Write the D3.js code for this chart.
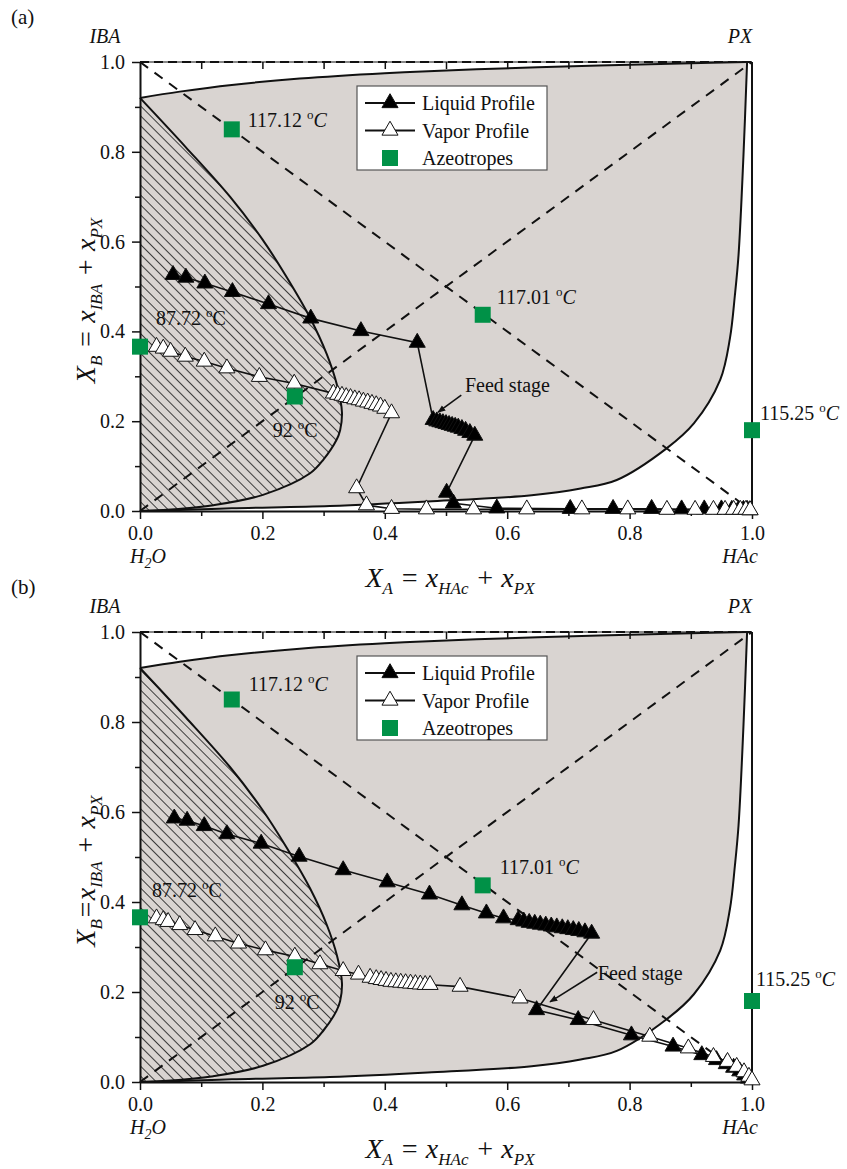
<!DOCTYPE html>
<html>
<head>
<meta charset="utf-8">
<script src="https://cdn.jsdelivr.net/npm/d3@7"></script>
<style>
  body { margin: 0; background: #fff; }
  svg text { font-family: "Liberation Serif", "Times New Roman", serif; fill: #111; }
</style>
</head>
<body>
<svg id="chart" width="847" height="1169"></svg>
<script>
// ---- data ----
const majorTicks = [0, 0.2, 0.4, 0.6, 0.8, 1.0];
const minorTicks = [0.1, 0.3, 0.5, 0.7, 0.9];
const topTicks = [0.1, 0.2, 0.3, 0.4, 0.5, 0.6, 0.7, 0.8, 0.9];

// two-liquid / boundary curves
const boundaryTop = [[0, 0.92], [0.065, 0.934], [0.15, 0.949], [0.261, 0.963], [0.4, 0.975],
  [0.55, 0.984], [0.75, 0.992], [0.9, 0.997], [0.992, 1.0]];
const boundaryRight = [[0, 0], [0.038, 0.001], [0.15, 0.006], [0.31, 0.011], [0.47, 0.021],
  [0.64, 0.035], [0.72, 0.05], [0.779, 0.069], [0.861, 0.14], [0.905, 0.195], [0.948, 0.292],
  [0.964, 0.385], [0.972, 0.48], [0.978, 0.57], [0.986, 0.79], [0.992, 1.0]];
const hatchEdge = [[0, 0.92], [0.075, 0.81], [0.147, 0.70], [0.2, 0.605], [0.24, 0.52],
  [0.278, 0.43], [0.305, 0.35], [0.322, 0.28], [0.33, 0.22], [0.327, 0.18], [0.321, 0.158],
  [0.3, 0.115], [0.278, 0.084], [0.201, 0.036], [0.12, 0.013], [0.038, 0.002], [0, 0]];

// azeotropes
const azeoX = [0.15, 0.56, 0, 0.253, 1.0];
const azeoY = [0.85, 0.437, 0.366, 0.255, 0.18];
const azeoTemp = ["117.12", "117.01", "87.72", "92", "115.25"];
const azeoItalicC = [true, true, false, false, true];

// panel (a) profiles
const liquidA = [[0.054, 0.526], [0.075, 0.520], [0.106, 0.507], [0.151, 0.488], [0.210, 0.461],
  [0.279, 0.429], [0.361, 0.401], [0.453, 0.375],
  [0.479, 0.203], [0.485, 0.200], [0.490, 0.198], [0.495, 0.196], [0.500, 0.194], [0.505, 0.192],
  [0.510, 0.190], [0.515, 0.188], [0.520, 0.186], [0.526, 0.183], [0.532, 0.179], [0.539, 0.174],
  [0.547, 0.168],
  [0.501, 0.041], [0.512, 0.017], [0.583, 0.006], [0.703, 0.005], [0.773, 0.005], [0.836, 0.005],
  [0.885, 0.004], [0.922, 0.004], [0.950, 0.004], [0.967, 0.003], [0.978, 0.003], [0.986, 0.003],
  [0.992, 0.003], [0.996, 0.002]];
const vaporA = [[0.027, 0.366], [0.038, 0.362], [0.050, 0.355], [0.074, 0.344], [0.105, 0.333],
  [0.142, 0.318], [0.195, 0.299], [0.252, 0.284],
  [0.316, 0.262], [0.323, 0.259], [0.330, 0.257], [0.337, 0.254], [0.344, 0.252], [0.351, 0.249],
  [0.358, 0.247], [0.365, 0.244], [0.372, 0.242], [0.379, 0.239], [0.386, 0.236], [0.393, 0.233],
  [0.400, 0.228], [0.411, 0.218],
  [0.354, 0.051], [0.370, 0.013], [0.411, 0.005], [0.468, 0.004], [0.545, 0.004], [0.632, 0.004],
  [0.722, 0.004], [0.797, 0.004], [0.861, 0.003], [0.907, 0.003], [0.937, 0.003], [0.956, 0.003],
  [0.970, 0.003], [0.981, 0.003], [0.990, 0.003], [0.997, 0.002]];

// panel (b) profiles
const liquidB = [[0.056, 0.586], [0.077, 0.581], [0.105, 0.569], [0.142, 0.551], [0.198, 0.530],
  [0.260, 0.501], [0.332, 0.471], [0.404, 0.444], [0.473, 0.417], [0.526, 0.393], [0.566, 0.375],
  [0.594, 0.364], [0.618, 0.360],
  [0.627, 0.357], [0.636, 0.354], [0.645, 0.352], [0.654, 0.350], [0.663, 0.348], [0.672, 0.346],
  [0.681, 0.344], [0.690, 0.342], [0.699, 0.340], [0.708, 0.338], [0.717, 0.336], [0.727, 0.333],
  [0.738, 0.330],
  [0.648, 0.160], [0.716, 0.138], [0.803, 0.104], [0.871, 0.079], [0.918, 0.060], [0.942, 0.049],
  [0.958, 0.040], [0.970, 0.032], [0.980, 0.024], [0.988, 0.015], [0.994, 0.008]];
const vaporB = [[0.027, 0.364], [0.038, 0.360], [0.046, 0.356], [0.065, 0.349], [0.090, 0.338],
  [0.123, 0.324], [0.161, 0.308], [0.205, 0.293], [0.253, 0.279], [0.294, 0.262], [0.332, 0.247],
  [0.357, 0.239], [0.376, 0.232],
  [0.386, 0.229], [0.394, 0.227], [0.402, 0.225], [0.410, 0.223], [0.418, 0.222], [0.426, 0.221],
  [0.434, 0.220], [0.442, 0.219], [0.450, 0.218], [0.458, 0.217], [0.466, 0.216], [0.474, 0.216],
  [0.523, 0.212], [0.621, 0.186], [0.741, 0.138], [0.833, 0.101], [0.896, 0.075], [0.937, 0.056],
  [0.960, 0.045], [0.975, 0.034], [0.987, 0.022], [0.995, 0.012], [1.0, 0.004]];

// feed stage annotation: [label point, arrow start, arrow end]
const feedA = [[0.531, 0.265], [0.525, 0.258], [0.487, 0.220]];
const feedB = [[0.748, 0.227], [0.747, 0.244], [0.670, 0.178]];

// ---- layout ----
const left = 140, right = 752;
const grayFill = "#d9d4d1";
const green = "#009147";

const panels = [
  { tag: "(a)", top: 62, bottom: 511, liquid: liquidA, vapor: vaporA, feed: feedA,
    eq: " = ", labelDx: [16, 14, 16, -22, 8], labelDy: [-2, -11, -22, 40, -10] },
  { tag: "(b)", top: 632, bottom: 1082, liquid: liquidB, vapor: vaporB, feed: feedB,
    eq: "=", labelDx: [17, 17, 12, -20, 4], labelDy: [-9, -11, -20, 42, -15] }
];

const svg = d3.select("#chart");
const defs = svg.append("defs");

defs.append("pattern")
  .attr("id", "hatch")
  .attr("patternUnits", "userSpaceOnUse")
  .attr("width", 7).attr("height", 7)
  .attr("patternTransform", "rotate(-45)")
  .append("line")
  .attr("x1", 3.5).attr("y1", 0).attr("x2", 3.5).attr("y2", 7)
  .attr("stroke", "#333").attr("stroke-width", 0.95);

defs.append("marker")
  .attr("id", "arrow")
  .attr("viewBox", "0 0 10 10")
  .attr("refX", 9).attr("refY", 5)
  .attr("markerWidth", 8).attr("markerHeight", 8)
  .attr("markerUnits", "userSpaceOnUse")
  .attr("orient", "auto")
  .append("path").attr("d", "M0,1 L10,5 L0,9 Z").attr("fill", "#111");

const triangle = d3.symbol(d3.symbolTriangle, 112);
const square = d3.symbol(d3.symbolSquare, 256);

function tempLabel(t, num, italicC) {
  t.append("tspan").text(num + " ");
  t.append("tspan").attr("font-size", 13).attr("dy", -8).text("o");
  t.append("tspan").attr("dy", 8).attr("font-style", italicC ? "italic" : "normal").text("C");
}

// parts: [text, isSub]; subSize: font size for subscripts
function mathText(t, parts, subSize, shift) {
  let down = false;
  parts.forEach(p => {
    const s = t.append("tspan").text(p[0]);
    if (p[1]) {
      s.attr("font-size", subSize);
      if (!down) { s.attr("dy", shift); down = true; }
    } else if (down) { s.attr("dy", -shift); down = false; }
  });
}

function drawPanel(cfg) {
  const x = d3.scaleLinear().domain([0, 1]).range([left, right]);
  const y = d3.scaleLinear().domain([0, 1]).range([cfg.bottom, cfg.top]);
  const g = svg.append("g");

  const curve = d3.line().x(d => x(d[0])).y(d => y(d[1])).curve(d3.curveCatmullRom.alpha(0.5));
  const straight = d3.line().x(d => x(d[0])).y(d => y(d[1]));

  // gray region
  const topPath = curve(boundaryTop);
  const rightRev = curve(boundaryRight.slice().reverse());
  g.append("path")
    .attr("d", "M" + x(0) + "," + y(0) + "L" + topPath.slice(1) + "L" + rightRev.slice(1) + "Z")
    .attr("fill", grayFill);

  // hatched region
  g.append("path").attr("d", curve(hatchEdge) + "Z").attr("fill", "url(#hatch)");

  // boundaries
  [boundaryTop, boundaryRight, hatchEdge].forEach(b => {
    g.append("path").attr("d", curve(b)).attr("fill", "none")
      .attr("stroke", "#111").attr("stroke-width", 2);
  });

  // dashed diagonals and top edge
  [[[0, 0], [1, 1]], [[0, 1], [1, 0]]].forEach(seg => {
    g.append("path").attr("d", straight(seg)).attr("fill", "none")
      .attr("stroke", "#111").attr("stroke-width", 2).attr("stroke-dasharray", "10,8");
  });
  g.append("path").attr("d", straight([[0, 1], [1, 1]])).attr("fill", "none")
    .attr("stroke", "#111").attr("stroke-width", 1);
  g.append("path").attr("d", straight([[0, 1], [1, 1]])).attr("fill", "none")
    .attr("stroke", "#111").attr("stroke-width", 2.2).attr("stroke-dasharray", "9,5");
  g.append("path").attr("d", straight([[1, 0], [1, 1]])).attr("fill", "none")
    .attr("stroke", "#111").attr("stroke-width", 2);

  // axes
  const fmt = d3.format(".1f");
  const xAxis = g.append("g").attr("transform", "translate(0," + cfg.bottom + ")")
    .call(d3.axisBottom(x).tickValues(majorTicks).tickFormat(fmt).tickSize(8).tickSizeOuter(0).tickPadding(7));
  g.append("g").attr("transform", "translate(0," + cfg.bottom + ")")
    .call(d3.axisBottom(x).tickValues(minorTicks).tickFormat("").tickSize(5).tickSizeOuter(0))
    .select(".domain").remove();
  const yAxis = g.append("g").attr("transform", "translate(" + left + ",0)")
    .call(d3.axisLeft(y).tickValues(majorTicks).tickFormat(fmt).tickSize(8).tickSizeOuter(0).tickPadding(7));
  g.append("g").attr("transform", "translate(" + left + ",0)")
    .call(d3.axisLeft(y).tickValues(minorTicks).tickFormat("").tickSize(5).tickSizeOuter(0))
    .select(".domain").remove();
  g.append("g").attr("transform", "translate(0," + cfg.top + ")")
    .call(d3.axisTop(x).tickValues(topTicks).tickFormat("").tickSize(-7).tickSizeOuter(0))
    .select(".domain").remove();
  g.selectAll(".domain").attr("stroke", "#111").attr("stroke-width", 2);
  g.selectAll(".tick line").attr("stroke", "#111").attr("stroke-width", 1.5);
  [xAxis, yAxis].forEach(a => a.selectAll("text")
    .attr("font-size", 20).attr("fill", "#111")
    .style("font-family", "'Liberation Serif', serif"));

  // profiles
  const series = [
    { pts: cfg.liquid, fill: "#000" },
    { pts: cfg.vapor, fill: "#fff" }
  ];
  series.forEach(s => {
    g.append("path").attr("d", straight(s.pts)).attr("fill", "none")
      .attr("stroke", "#111").attr("stroke-width", 1.6);
  });
  series.forEach(s => {
    g.selectAll(null).data(s.pts).enter().append("path")
      .attr("d", triangle)
      .attr("transform", d => "translate(" + x(d[0]) + "," + y(d[1]) + ")")
      .attr("fill", s.fill).attr("stroke", "#111").attr("stroke-width", 1);
  });

  // feed stage annotation
  g.append("text").attr("x", x(cfg.feed[0][0])).attr("y", y(cfg.feed[0][1]))
    .attr("font-size", 20).text("Feed stage");
  g.append("path").attr("d", straight([cfg.feed[1], cfg.feed[2]]))
    .attr("stroke", "#111").attr("stroke-width", 1.6).attr("marker-end", "url(#arrow)");

  // azeotropes
  azeoX.forEach((ax, i) => {
    g.append("path").attr("d", square)
      .attr("transform", "translate(" + x(ax) + "," + y(azeoY[i]) + ")")
      .attr("fill", green);
    const t = g.append("text")
      .attr("x", x(ax) + cfg.labelDx[i]).attr("y", y(azeoY[i]) + cfg.labelDy[i])
      .attr("font-size", 20);
    tempLabel(t, azeoTemp[i], azeoItalicC[i]);
  });

  // legend
  const lg = g.append("g").attr("transform", "translate(357," + (cfg.top + 24) + ")");
  lg.append("rect").attr("width", 190).attr("height", 84)
    .attr("fill", "#fff").attr("stroke", "#555").attr("stroke-width", 1.2);
  const items = [
    { label: "Liquid Profile", fill: "#000", line: true, sym: triangle },
    { label: "Vapor Profile", fill: "#fff", line: true, sym: triangle },
    { label: "Azeotropes", fill: green, line: false, sym: square }
  ];
  items.forEach((it, i) => {
    const yy = 17 + i * 27.5;
    if (it.line) {
      lg.append("line").attr("x1", 8).attr("x2", 58).attr("y1", yy).attr("y2", yy)
        .attr("stroke", "#111").attr("stroke-width", 2);
    }
    lg.append("path").attr("d", it.sym)
      .attr("transform", "translate(33," + yy + ")")
      .attr("fill", it.fill).attr("stroke", it.line ? "#111" : "none");
    lg.append("text").attr("x", 65).attr("y", yy).attr("dy", "0.35em")
      .attr("font-size", 20).text(it.label);
  });

  // corner labels
  const corner = (cx, cy, parts) => {
    const t = g.append("text").attr("x", cx).attr("y", cy).attr("text-anchor", "middle")
      .attr("font-size", 20).attr("font-style", "italic");
    mathText(t, parts, 14, 5);
  };
  corner(105, cfg.top - 19, [["IBA"]]);
  corner(740, cfg.top - 19, [["PX"]]);
  corner(148, cfg.bottom + 52, [["H"], ["2", true], ["O"]]);
  corner(740, cfg.bottom + 52, [["HAc"]]);

  // axis titles
  const xt = g.append("text").attr("x", 450).attr("y", cfg.bottom + 76)
    .attr("text-anchor", "middle").attr("font-size", 28).attr("font-style", "italic");
  mathText(xt, [["X"], ["A", true], [" = x"], ["HAc", true], [" +  x"], ["PX", true]], 17, 7);

  const yt = g.append("text")
    .attr("transform", "translate(95," + ((cfg.top + cfg.bottom) / 2 + 14) + ") rotate(-90)")
    .attr("text-anchor", "middle").attr("font-size", 28).attr("font-style", "italic");
  mathText(yt, [["X"], ["B", true], [cfg.eq + "x"], ["IBA", true], [" + x"], ["PX", true]], 17, 7);

  // panel tag
  g.append("text").attr("x", 11).attr("y", cfg.top - 38).attr("font-size", 21).text(cfg.tag);
}

panels.forEach(drawPanel);
</script>
</body>
</html>
